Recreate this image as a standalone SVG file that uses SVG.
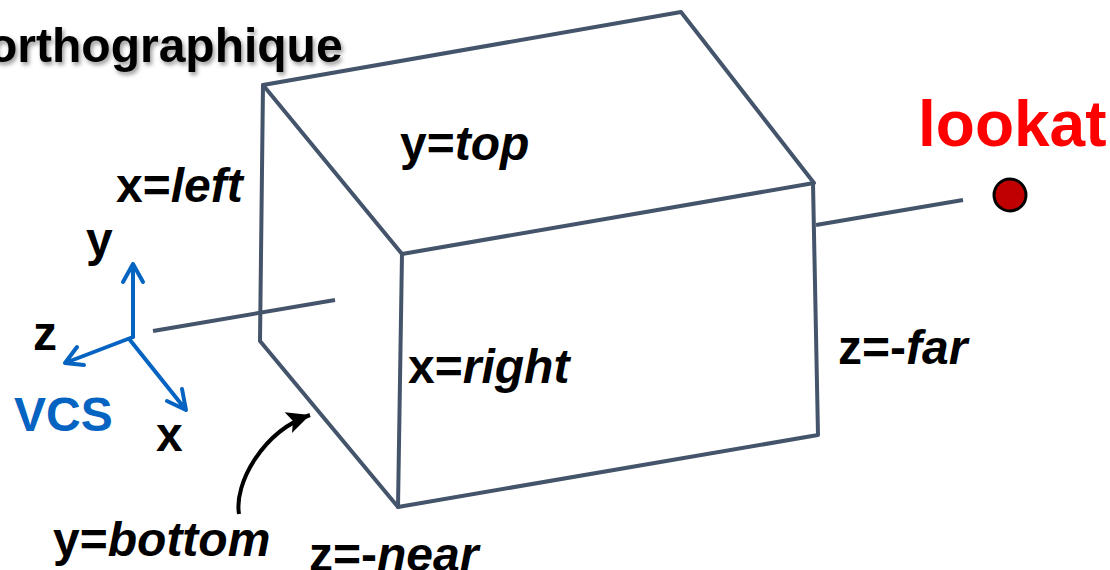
<svg xmlns="http://www.w3.org/2000/svg" width="1110" height="570" viewBox="0 0 1110 570">
<defs>
<filter id="sh" x="-5%" y="-20%" width="110%" height="150%"><feDropShadow dx="2" dy="3" stdDeviation="2" flood-color="#000" flood-opacity="0.4"/></filter>
<marker id="ah" markerUnits="userSpaceOnUse" markerWidth="26" markerHeight="26" refX="24" refY="13" orient="auto"><path d="M1 2 L24 13 L1 24 L6 13 Z" fill="#000"/></marker>
</defs>
<style>
text{font-family:"Liberation Sans",Arial,sans-serif;font-weight:700;fill:#000}
.l{font-size:48px}
.i{font-style:italic}
.b{fill:none;stroke:#44546a;stroke-width:4;stroke-linecap:round;stroke-linejoin:round}
.a{fill:none;stroke:#0563c1;stroke-width:4;stroke-linecap:round;stroke-linejoin:round}
</style>
<rect width="1110" height="570" fill="#fff"/>
<g id="connectors">
<path class="b" d="M263 85 L681 12 L814 183 L402 254 L263 85 Z"/>
<path class="b" d="M263 85 L260 341 L398 507 L818 435 L813 183"/>
<path class="b" d="M402 254 L398 507"/>
<path class="b" style="stroke-linecap:butt" d="M153 331 L335 300"/>
<path class="b" style="stroke-linecap:butt" d="M816 225 L963 200"/>
<path class="a" d="M133 337 L133 264 M123 282 L133 264 L143 282"/>
<path class="a" d="M133 337 L65 363 M77 347 L65 363 L84 365"/>
<path class="a" d="M130 340 L186 410 M167 401 L186 410 L182 389"/>
<path d="M239 514 C234 484 262 432 310 415" fill="none" stroke="#000" stroke-width="4" marker-end="url(#ah)"/>
</g>
<g id="title"><text x="-12" y="62" font-size="48" filter="url(#sh)">orthographique</text></g>
<g id="lookat"><text x="918" y="146" font-size="64" style="fill:#f00">lookat</text>
<circle cx="1010" cy="195" r="16" fill="#c00000" stroke="#000" stroke-width="3"/></g>
<g id="label-top"><text class="l" x="400" y="160">y=<tspan class="i">top</tspan></text></g>
<g id="label-left"><text class="l" x="116" y="202">x=<tspan class="i">left</tspan></text></g>
<g id="label-right"><text class="l" x="408" y="383">x=<tspan class="i">right</tspan></text></g>
<g id="label-far"><text class="l" x="838" y="364">z=-<tspan class="i">far</tspan></text></g>
<g id="label-bottom"><text class="l" x="53" y="556">y=<tspan class="i">bottom</tspan></text></g>
<g id="label-near"><text class="l" x="309" y="571">z=-<tspan class="i">near</tspan></text></g>
<g id="axis-labels">
<text class="l" x="86" y="256">y</text>
<text class="l" x="33" y="350">z</text>
<text class="l" x="156" y="451">x</text>
<text x="14" y="431" font-size="48" style="fill:#0563c1">VCS</text>
</g>
</svg>
